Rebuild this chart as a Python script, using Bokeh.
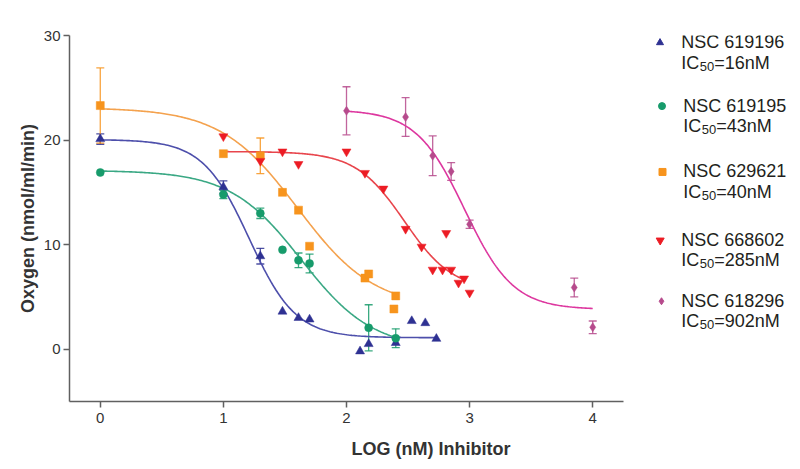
import numpy as np
from bokeh.plotting import figure
from bokeh.models import ColumnDataSource, Whisker, TeeHead, FixedTicker, Range1d
from bokeh.core.properties import value
from bokeh.embed import file_html
from bokeh.resources import INLINE

# ---------------- data ----------------
blue_x = [0, 1, 1.30, 1.48, 1.61, 1.70, 2.11, 2.18, 2.40, 2.53, 2.64, 2.73]
blue_y = [20.1, 15.5, 8.9, 3.6, 3.0, 2.85, -0.2, 0.5, 0.6, 2.7, 2.5, 1.0]
blue_err = [0.5, 0.6, 0.75, 0, 0, 0, 0, 0, 0, 0, 0, 0]

green_x = [0, 1, 1.30, 1.48, 1.61, 1.70, 2.18, 2.40]
green_y = [16.9, 14.8, 13.0, 9.5, 8.5, 8.2, 2.05, 1.05]
green_err = [0, 0.4, 0.5, 0, 0.7, 0.9, 2.2, 0.9]

orange_x = [0, 1, 1.30, 1.48, 1.61, 1.70, 2.15, 2.18, 2.385, 2.40]
orange_y = [23.3, 18.7, 18.5, 15.0, 13.3, 9.85, 6.8, 7.2, 3.85, 5.1]
orange_err = [3.6, 0, 1.7, 0, 0, 0, 0, 0, 0, 0]

red_x = [1, 1.30, 1.48, 1.61, 2.0, 2.15, 2.30, 2.48, 2.61, 2.70, 2.78, 2.81, 2.85, 2.91, 2.955, 3.0]
red_y = [20.35, 18.0, 18.9, 17.7, 18.9, 16.85, 15.35, 11.5, 9.8, 7.6, 7.6, 11.1, 7.6, 6.35, 6.75, 5.4]
red_err = [0] * len(red_x)

pink_x = [2.0, 2.48, 2.70, 2.85, 3.0, 3.85, 4.0]
pink_y = [22.8, 22.2, 18.5, 17.0, 11.95, 5.9, 2.1]
pink_err = [2.3, 1.85, 1.9, 0.85, 0.4, 0.9, 0.6]

# fitted dose-response parameters: top, bottom, logIC50 (curve mid), hill, x-span
blue_fit = (20.05, 1.1, 1.21, 2.3, 0.0, 2.73)
green_fit = (17.1, 0.0, 1.633, 1.5, 0.0, 2.40)
orange_fit = (23.1, 3.9, 1.602, 1.39, 0.0, 2.40)
red_fit = (18.9, 5.6, 2.47, 2.2, 1.0, 2.97)
pink_fit = (22.9, 3.8, 2.96, 2.2, 2.0, 4.0)

names = ["NSC 619196", "NSC 619195", "NSC 629621", "NSC 668602", "NSC 618296"]
ic50_labels = ["=16nM", "=43nM", "=40nM", "=285nM", "=902nM"]

x_ticks = [0, 1, 2, 3, 4]
y_ticks = [0, 10, 20, 30]

# ---------------- styling ----------------
FONT = "Liberation Sans"
marker_cols = ["#2e3192", "#179b6b", "#f7941d", "#ec1c24", "#b64a8c"]
curve_cols = ["#4d4fab", "#3aa884", "#f4a24e", "#e8454c", "#dd379f"]
markers = ["triangle", "circle", "square", "inverted_triangle", "diamond"]
msizes = [9, 8, 8, 9, 9]
leg_msizes = [7, 7, 7, 8, 7]

series = [
    (blue_x, blue_y, blue_err, blue_fit),
    (green_x, green_y, green_err, green_fit),
    (orange_x, orange_y, orange_err, orange_fit),
    (red_x, red_y, red_err, red_fit),
    (pink_x, pink_y, pink_err, pink_fit),
]

# layout (image pixels)
W, H = 792, 461
FR_L, FR_T = 69, 35
FR_B = 403
FR_W, FR_H = W - FR_L, FR_B - FR_T
X0, X_AX_END = -0.25, 4.25
SX = (623 - 69) / (X_AX_END - X0)
X_END = X0 + FR_W / SX
Y0, Y1 = -5, 30
SY = FR_H / (Y1 - Y0)


def dx(px):
    return X0 + (px - FR_L) / SX


def dy(py):
    return Y1 - (py - FR_T) / SY


p = figure(width=W, height=H, x_range=Range1d(X0, X_END), y_range=Range1d(Y0, Y1),
           output_backend="svg", toolbar_location=None,
           min_border_left=FR_L, min_border_right=0, min_border_top=FR_T,
           min_border_bottom=H - FR_B)
p.outline_line_color = None
p.grid.visible = False
p.background_fill_color = "white"
p.border_fill_color = "white"

for ax, b, t in ((p.xaxis, (X0, X_AX_END), x_ticks), (p.yaxis, (Y0, Y1), y_ticks)):
    ax.bounds = b
    ax.ticker = FixedTicker(ticks=t)
    ax.axis_line_color = "#606060"
    ax.axis_line_width = 1.5
    ax.major_tick_line_color = "#606060"
    ax.major_tick_line_width = 1.5
    ax.major_tick_out = 6
    ax.major_tick_in = 0
    ax.minor_tick_line_color = None
    ax.major_label_text_font = FONT
    ax.major_label_text_font_size = "15px"
    ax.major_label_text_color = "#333333"
    ax.axis_label_text_font = FONT
    ax.axis_label_text_font_size = "18px"
    ax.axis_label_text_font_style = "bold"
    ax.axis_label_text_color = "#333333"

p.xaxis.axis_label = "LOG (nM) Inhibitor"
p.yaxis.axis_label = "Oxygen (nmol/ml/min)"
p.xaxis.major_label_standoff = 5
p.yaxis.major_label_standoff = 3
p.xaxis.axis_label_standoff = 13
p.yaxis.axis_label_standoff = 3

# curves
for i, (xs, ys, es, fit) in enumerate(series):
    top, bot, x50, hill, xa, xb = fit
    cx = np.linspace(xa, xb, 200)
    cy = bot + (top - bot) / (1 + 10 ** ((cx - x50) * hill))
    p.line(cx, cy, line_color=curve_cols[i], line_width=1.6)

# error bars
for i, (xs, ys, es, fit) in enumerate(series):
    sel = [(x, y, e) for x, y, e in zip(xs, ys, es) if e > 0]
    if not sel:
        continue
    src = ColumnDataSource(dict(x=[s[0] for s in sel],
                                upper=[s[1] + s[2] for s in sel],
                                lower=[s[1] - s[2] for s in sel]))
    c = marker_cols[i]
    w = Whisker(source=src, base="x", upper="upper", lower="lower", dimension="height",
                line_color=c, line_width=1.3, line_alpha=0.85,
                upper_head=TeeHead(size=8, line_color=c, line_width=1.3, line_alpha=0.85),
                lower_head=TeeHead(size=8, line_color=c, line_width=1.3, line_alpha=0.85))
    p.add_layout(w)

# markers
for i, (xs, ys, es, fit) in enumerate(series):
    p.scatter(xs, ys, marker=markers[i], size=msizes[i], fill_color=marker_cols[i],
              line_color=marker_cols[i], line_width=0.5)

# legend (drawn manually to match layout)
line1_py = [41.7, 105.5, 171.7, 240.5, 301.7]
gap = 20.5
mk_px = [659.5, 661.5, 662, 659.7, 661]
tx_px = [680.7, 682.7, 682.7, 680.7, 680.7]
for i in range(5):
    y1 = dy(line1_py[i])
    y2 = dy(line1_py[i] + gap)
    ysub = dy(line1_py[i] + gap + 3.5)
    xm = dx(mk_px[i])
    xt = dx(tx_px[i])
    p.scatter([xm], [dy(line1_py[i] + 0.5)], marker=markers[i], size=leg_msizes[i],
              fill_color=marker_cols[i], line_color=marker_cols[i])
    common = dict(text_font=value(FONT), text_color="#231f20", text_baseline="middle",
                  text_align="left")
    p.text([xt], [y1], text=[names[i]], text_font_size="18px", **common)
    p.text([xt], [y2], text=["IC"], text_font_size="18px", **common)
    p.text([xt], [ysub], text=["50"], text_font_size="13px", x_offset=18.5, **common)
    p.text([xt], [y2], text=[ic50_labels[i]], text_font_size="18px", x_offset=33, **common)

open("out.html", "w").write(file_html(p, INLINE))
